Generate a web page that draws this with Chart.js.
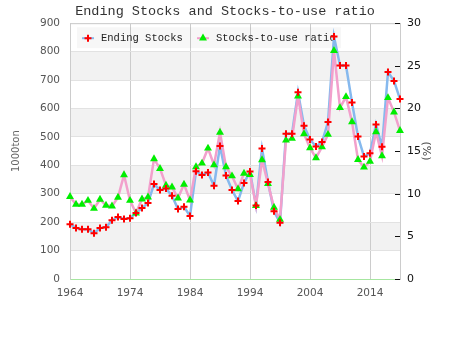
<!DOCTYPE html>
<html>
<head>
<meta charset="utf-8">
<script src="https://cdn.jsdelivr.net/npm/chart.js@4.4.0/dist/chart.umd.min.js"></script>
<style>
  html, body { margin: 0; padding: 0; background: #fff; }
  #wrap { width: 450px; height: 350px; }
</style>
</head>
<body>
<div id="wrap"><canvas id="stocksChart" width="450" height="350"></canvas></div>
<script>
// Ending stocks (1000ton) and stocks-to-use ratio (%), 1964-2019
const years = [
  1964, 1965, 1966, 1967, 1968, 1969, 1970, 1971, 1972, 1973,
  1974, 1975, 1976, 1977, 1978, 1979, 1980, 1981, 1982, 1983,
  1984, 1985, 1986, 1987, 1988, 1989, 1990, 1991, 1992, 1993,
  1994, 1995, 1996, 1997, 1998, 1999, 2000, 2001, 2002, 2003,
  2004, 2005, 2006, 2007, 2008, 2009, 2010, 2011, 2012, 2013,
  2014, 2015, 2016, 2017, 2018, 2019,
]

const endingStocks = [
  193, 179, 175, 175, 161, 179, 182, 207, 218, 211,
  214, 232, 250, 267, 334, 313, 318, 293, 246, 254,
  222, 379, 366, 375, 328, 468, 364, 313, 274, 338,
  378, 259, 459, 341, 238, 198, 511, 511, 657, 539,
  491, 466, 482, 552, 853, 751, 751, 621, 501, 431,
  442, 544, 465, 728, 697, 633,
]

const stocksToUse = [
  9.65, 8.75, 8.75, 9.2, 8.27, 9.33, 8.63, 8.55, 9.57, 12.2,
  9.2, 7.73, 9.37, 9.6, 14.08, 12.94, 10.98, 10.78, 9.49, 11.1,
  9.25, 13.14, 13.57, 15.33, 13.37, 17.2, 13.14, 12.08, 10.55, 12.39,
  12.24, 8.6, 13.96, 11.18, 8.39, 6.98, 16.27, 16.47, 21.45, 17.02,
  15.37, 14.2, 15.49, 16.94, 26.78, 20.08, 21.37, 18.43, 14.0, 13.1,
  13.8, 17.25, 14.43, 21.25, 19.57, 17.4,
]

const xTickLabels = [1964, 1974, 1984, 1994, 2004, 2014]
const leftTicks = [0, 100, 200, 300, 400, 500, 600, 700, 800, 900]
const rightTicks = [0, 5, 10, 15, 20, 25, 30]

const SANS = "'DejaVu Sans', sans-serif"
const MONO = "'Liberation Mono', monospace"
const BLUE_LINE = "#86b9ee"
const PINK_LINE = "#f2a0cc"
const RED = "#ff0000"
const GREEN = "#00ee00"

// alternating grey bands between the left axis grid lines
const bandsPlugin = {
  id: "bands",
  beforeDraw(chart) {
    const { ctx, chartArea } = chart
    const y = chart.scales.y
    ctx.save()
    ctx.fillStyle = "#f2f2f2"
    for (let i = 1; i < leftTicks.length - 1; i += 2) {
      const top = y.getPixelForValue(leftTicks[i + 1])
      const bottom = y.getPixelForValue(leftTicks[i])
      ctx.fillRect(chartArea.left, top, chartArea.right - chartArea.left, bottom - top)
    }
    ctx.restore()
  },
}

function drawPlus(ctx, x, y) {
  ctx.save()
  ctx.strokeStyle = RED
  ctx.lineWidth = 2
  ctx.beginPath()
  ctx.moveTo(x - 3.5, y)
  ctx.lineTo(x + 3.5, y)
  ctx.moveTo(x, y - 3.5)
  ctx.lineTo(x, y + 3.5)
  ctx.stroke()
  ctx.restore()
}

function drawTriangle(ctx, x, y) {
  const r = 4.6
  ctx.save()
  ctx.fillStyle = GREEN
  ctx.beginPath()
  ctx.moveTo(x, y - r)
  ctx.lineTo(x + r * 0.866, y + r * 0.5)
  ctx.lineTo(x - r * 0.866, y + r * 0.5)
  ctx.closePath()
  ctx.fill()
  ctx.restore()
}

// legend box sits inside the plot, under the lines
const innerLegendPlugin = {
  id: "innerLegend",
  beforeDatasetsDraw(chart) {
    const { ctx, chartArea } = chart
    const x0 = chartArea.left + 7
    const y0 = chartArea.top + 4
    const midY = y0 + 11

    ctx.save()
    // top edge of the plot frame
    ctx.strokeStyle = "#cccccc"
    ctx.lineWidth = 1
    ctx.beginPath()
    ctx.moveTo(chartArea.left, chartArea.top + 0.5)
    ctx.lineTo(chartArea.right, chartArea.top + 0.5)
    ctx.stroke()

    ctx.fillStyle = "rgba(0, 0, 0, 0.03)"
    ctx.fillRect(x0, y0, 264, 21)

    ctx.lineWidth = 2
    ctx.strokeStyle = BLUE_LINE
    ctx.beginPath()
    ctx.moveTo(x0 + 5, midY)
    ctx.lineTo(x0 + 17, midY)
    ctx.stroke()
    drawPlus(ctx, x0 + 11, midY)

    ctx.strokeStyle = PINK_LINE
    ctx.beginPath()
    ctx.moveTo(x0 + 120, midY)
    ctx.lineTo(x0 + 132, midY)
    ctx.stroke()
    drawTriangle(ctx, x0 + 126, midY)

    ctx.fillStyle = "#222"
    ctx.font = "10.5px " + MONO
    ctx.textBaseline = "middle"
    ctx.fillText("Ending Stocks", x0 + 24, midY)
    ctx.fillText("Stocks-to-use ratio", x0 + 139, midY)
    ctx.restore()
  },
}

// small tick marks just inside the right edge of the plot
const rightTicksPlugin = {
  id: "rightTicks",
  afterDraw(chart) {
    const { ctx, chartArea } = chart
    const y1 = chart.scales.y1
    ctx.save()
    ctx.fillStyle = "#111"
    rightTicks.forEach((v) => {
      const py = Math.round(y1.getPixelForValue(v))
      ctx.fillRect(chartArea.right - 5, py, 5, 1)
    })
    ctx.restore()
  },
}

const ctx = document.getElementById("stocksChart")
const chart = new Chart(ctx, {
  type: "line",
  data: {
    labels: years,
    datasets: [
      {
        label: "Ending Stocks",
        data: endingStocks,
        yAxisID: "y",
        showLine: false,
        pointStyle: "cross",
        pointRadius: 3.5,
        pointBorderWidth: 2,
        pointBorderColor: RED,
        pointBackgroundColor: RED,
        order: 1,
      },
      {
        label: "Stocks-to-use ratio",
        data: stocksToUse,
        yAxisID: "y1",
        showLine: false,
        pointStyle: "triangle",
        pointRadius: 4.6,
        pointBorderWidth: 0,
        pointBorderColor: GREEN,
        pointBackgroundColor: GREEN,
        order: 2,
      },
      {
        label: "Stocks-to-use ratio line",
        data: stocksToUse,
        yAxisID: "y1",
        borderColor: PINK_LINE,
        borderWidth: 2.5,
        pointRadius: 0,
        tension: 0,
        fill: false,
        order: 3,
      },
      {
        label: "Ending Stocks line",
        data: endingStocks,
        yAxisID: "y",
        borderColor: BLUE_LINE,
        borderWidth: 2.5,
        pointRadius: 0,
        tension: 0,
        fill: false,
        order: 4,
      },
    ],
  },
  options: {
    responsive: false,
    animation: false,
    layout: { padding: 0 },
    plugins: {
      legend: { display: false },
      tooltip: { enabled: false },
      title: {
        display: true,
        text: "Ending Stocks and Stocks-to-use ratio",
        color: "#333",
        font: { family: MONO, size: 13.5, weight: "normal" },
        padding: { top: 3, bottom: 4 },
      },
    },
    scales: {
      x: {
        type: "category",
        grid: {
          color: (c) => (xTickLabels.includes(years[c.index]) ? "#cccccc" : "rgba(0,0,0,0)"),
          drawTicks: false,
        },
        border: { color: "#a6e6a0", width: 1 },
        ticks: {
          autoSkip: false,
          maxRotation: 0,
          padding: 8,
          color: "#555",
          font: { family: SANS, size: 10.5 },
          callback: (v, i) => (xTickLabels.includes(years[i]) ? String(years[i]) : ""),
        },
        afterFit: (s) => { s.height = 71 },
      },
      y: {
        position: "left",
        min: 0,
        max: 900,
        afterBuildTicks: (s) => { s.ticks = leftTicks.map((v) => ({ value: v })) },
        grid: { color: "#e2e2e2", drawTicks: false },
        border: { color: "#cccccc" },
        ticks: { padding: 10, color: "#555", font: { family: SANS, size: 10.5 } },
        title: {
          display: true,
          text: "1000ton",
          color: "#666",
          font: { family: SANS, size: 10 },
          padding: { top: 10, bottom: 0 },
        },
        afterFit: (s) => { s.width = 70 },
      },
      y1: {
        position: "right",
        min: 0,
        max: 30,
        afterBuildTicks: (s) => { s.ticks = rightTicks.map((v) => ({ value: v })) },
        grid: { drawOnChartArea: false, drawTicks: false },
        border: { color: "#cccccc" },
        ticks: { padding: 7, color: "#111", font: { family: SANS, size: 11 } },
        title: {
          display: true,
          text: "(%)",
          color: "#444",
          font: { family: SANS, size: 11 },
          padding: { top: 18, bottom: 0 },
        },
        afterFit: (s) => { s.width = 50 },
      },
    },
  },
  plugins: [bandsPlugin, innerLegendPlugin, rightTicksPlugin],
})
</script>
</body>
</html>
